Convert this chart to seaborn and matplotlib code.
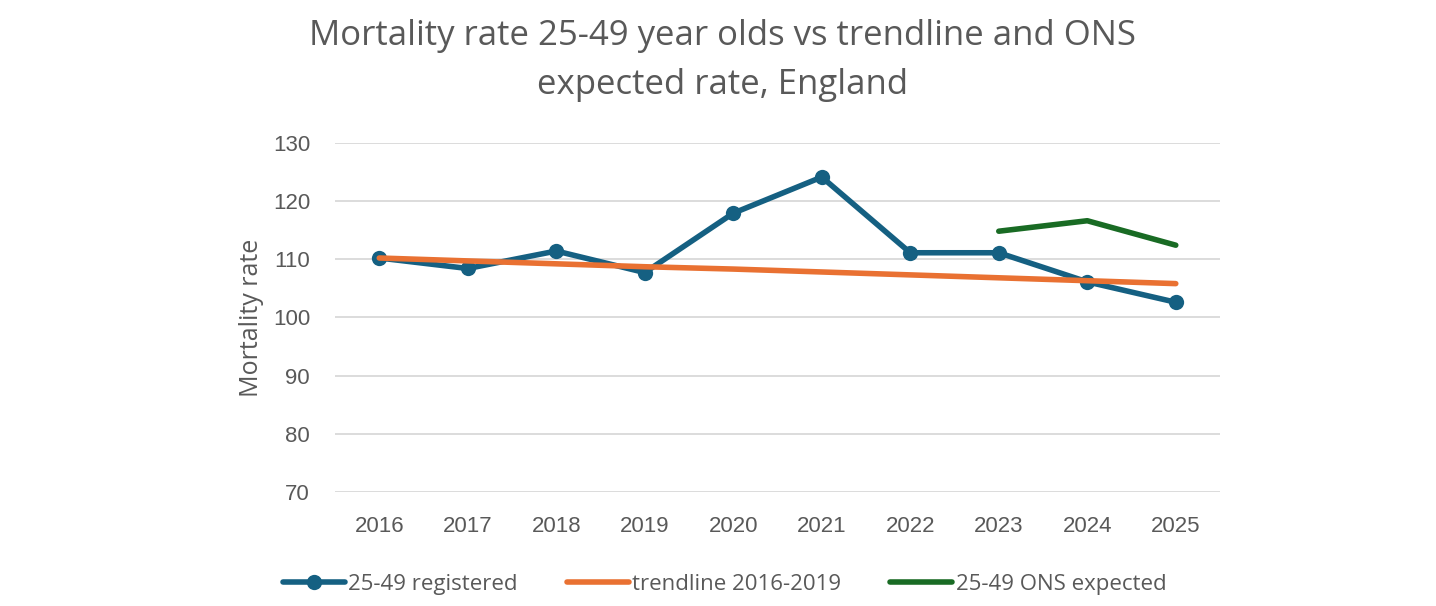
import matplotlib
matplotlib.use("Agg")
import matplotlib.pyplot as plt
import seaborn as sns
import pandas as pd

years = [2016, 2017, 2018, 2019, 2020, 2021, 2022, 2023, 2024, 2025]
registered = [110.2, 108.4, 111.4, 107.7, 117.9, 124.1, 111.1, 111.1, 106.1, 102.6]
trend = [110.2, 109.7, 109.2, 108.7, 108.3, 107.8, 107.3, 106.8, 106.3, 105.8]
ons_years = [2023, 2024, 2025]
ons_expected = [114.8, 116.6, 112.4]
yticks = [70, 80, 90, 100, 110, 120, 130]

sns.set_theme(style="white")
plt.rcParams['font.family'] = ['Liberation Sans', 'DejaVu Sans']

fig = plt.figure(figsize=(14.36, 6.06), dpi=100)
ax = fig.add_axes([0.2333, 0.188, 0.6163, 0.5765])

pos = {y: i for i, y in enumerate(years)}
df = pd.DataFrame({"x": [pos[y] for y in years], "registered": registered, "trend": trend})
df_ons = pd.DataFrame({"x": [pos[y] for y in ons_years], "ons": ons_expected})

blue = "#156082"
orange = "#E97132"
green = "#196B24"
grey = "#595959"

sns.lineplot(data=df, x="x", y="registered", ax=ax, color=blue, linewidth=4,
             marker="o", markersize=11, markeredgewidth=0, label="25-49 registered", zorder=3)
sns.lineplot(data=df, x="x", y="trend", ax=ax, color=orange, linewidth=4,
             label="trendline 2016-2019", zorder=4)
sns.lineplot(data=df_ons, x="x", y="ons", ax=ax, color=green, linewidth=4,
             label="25-49 ONS expected", zorder=3)

ax.set_xlim(-0.5, len(years) - 0.5)
ax.set_ylim(70, 130)
ax.set_yticks(yticks)
ax.set_xticks(range(len(years)))
ax.set_xticklabels([str(y) for y in years])
ax.grid(axis="y", color="#d9d9d9", linewidth=1.3)
ax.set_axisbelow(True)
for s in ax.spines.values():
    s.set_visible(False)
ax.tick_params(axis="y", length=0, labelsize=16, colors=grey, pad=18)
ax.tick_params(axis="x", length=0, labelsize=16, colors=grey, pad=17)
ax.set_xlabel("")
ax.set_ylabel("Mortality rate", fontsize=18, color=grey, labelpad=6,
              family=['Open Sans', 'DejaVu Sans'])

fig.suptitle("Mortality rate 25-49 year olds vs trendline and ONS\nexpected rate, England",
             x=0.503, y=0.968, fontsize=25, color=grey, linespacing=1.55,
             family=['Open Sans', 'DejaVu Sans'])

leg = ax.legend(loc="upper center", bbox_to_anchor=(0.44, -0.178), ncol=3, frameon=False,
                handlelength=2.8, columnspacing=2.2, handletextpad=0.15,
                prop={'family': ['Open Sans', 'DejaVu Sans'], 'size': 16})
for t in leg.get_texts():
    t.set_color(grey)

fig.savefig("out.png", dpi=100)
